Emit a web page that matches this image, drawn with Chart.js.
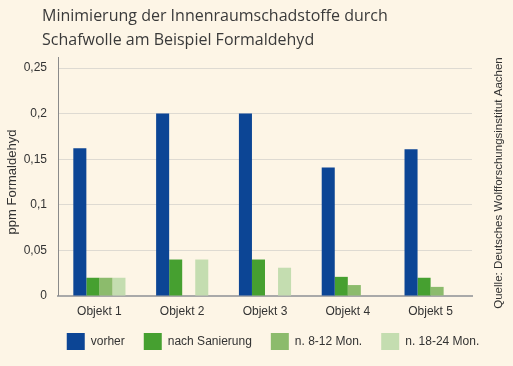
<!DOCTYPE html>
<html>
<head>
<meta charset="utf-8">
<script src="https://cdn.jsdelivr.net/npm/chart.js@4"></script>
<style>
  html, body { margin: 0; padding: 0; background: #fdf5e6; }
  #wrap { width: 513px; height: 366px; }
</style>
</head>
<body>
<div id="wrap"><canvas id="myChart" width="513" height="366"></canvas></div>
<script>
const labels = ['Objekt 1', 'Objekt 2', 'Objekt 3', 'Objekt 4', 'Objekt 5'];
const vorher = [0.162, 0.2, 0.2, 0.141, 0.161];
const nachSanierung = [0.02, 0.04, 0.04, 0.021, 0.02];
const n8bis12 = [0.02, null, null, 0.012, 0.01];
const n18bis24 = [0.02, 0.04, 0.031, null, null];
const yTicks = [0, 0.05, 0.1, 0.15, 0.2, 0.25];
const titleLines = ['Minimierung der Innenraumschadstoffe durch', 'Schafwolle am Beispiel Formaldehyd'];
const quelle = 'Quelle: Deutsches Wolfforschungsinstitut Aachen';

const txt = '#333333';

const extras = {
    id: 'extras',
    afterLayout(chart) {
        // legende etwas nach rechts / oben schieben wie im original
        const lg = chart.legend;
        lg.left += 37; lg.right += 37;
        lg.top -= 6; lg.bottom -= 6;
    },
    beforeDraw(chart) {
        const c = chart.ctx;
        c.save();
        c.fillStyle = '#fdf5e6';
        c.fillRect(0, 0, chart.width, chart.height);
        c.restore();
    },
    afterDraw(chart) {
        const c = chart.ctx;
        const a = chart.chartArea;
        c.save();
        // titel
        c.fillStyle = '#3a3a3a';
        c.font = '16px "Open Sans"';
        c.textBaseline = 'alphabetic';
        c.fillText(titleLines[0], 42, 21);
        c.fillText(titleLines[1], 42, 45);
        // y-achse etwas nach oben verlaengert
        c.strokeStyle = '#8a8a8a';
        c.lineWidth = 1;
        c.beginPath();
        c.moveTo(a.left + 0.5, a.top - 11);
        c.lineTo(a.left + 0.5, a.bottom);
        c.stroke();
        // quelle
        c.translate(499, 183);
        c.rotate(-Math.PI / 2);
        c.font = '11.5px "Liberation Sans"';
        c.fillStyle = txt;
        c.textAlign = 'center';
        c.textBaseline = 'middle';
        c.fillText(quelle, 0, 0);
        c.restore();
    }
};

const ctx = document.getElementById('myChart');
var graphData = {
    type: 'bar',
    data: {
        labels: labels,
        datasets: [
            { label: 'vorher', data: vorher, backgroundColor: '#0c4595' },
            { label: 'nach Sanierung', data: nachSanierung, backgroundColor: '#46a030' },
            { label: 'n. 8-12 Mon.', data: n8bis12, backgroundColor: '#8cbb6c' },
            { label: 'n. 18-24 Mon.', data: n18bis24, backgroundColor: '#c4ddb0' }
        ]
    },
    options: {
        responsive: false,
        animation: false,
        layout: { padding: { top: 68, right: 41, left: 0, bottom: 0 } },
        datasets: { bar: { categoryPercentage: 0.63, barPercentage: 1 } },
        scales: {
            x: {
                clip: false,
                afterFit(axis) { axis.height = 24; },
                grid: { display: false, drawTicks: false },
                border: { color: '#a9a9a9', width: 2 },
                ticks: { color: txt, font: { family: 'Liberation Sans', size: 12 }, padding: 8 }
            },
            y: {
                min: 0,
                max: 0.25,
                afterBuildTicks(axis) { axis.ticks = yTicks.map(v => ({ value: v })); },
                afterFit(axis) { axis.width = 58; },
                grid: { color: '#dedad2', drawTicks: false },
                border: { display: false },
                ticks: {
                    color: txt,
                    padding: 11,
                    font: { family: 'Liberation Sans', size: 12 },
                    callback: v => String(v).replace('.', ',')
                },
                title: {
                    display: true,
                    text: 'ppm Formaldehyd',
                    color: txt,
                    font: { family: 'Liberation Sans', size: 13 },
                    padding: { top: 5, bottom: 0 }
                }
            }
        },
        plugins: {
            legend: {
                position: 'bottom',
                labels: {
                    color: txt,
                    boxWidth: 18,
                    boxHeight: 17,
                    padding: 19,
                    font: { family: 'Liberation Sans', size: 12 }
                }
            },
            tooltip: { enabled: false }
        }
    },
    plugins: [extras]
};
var myChart = new Chart(ctx, graphData);
</script>
</body>
</html>
